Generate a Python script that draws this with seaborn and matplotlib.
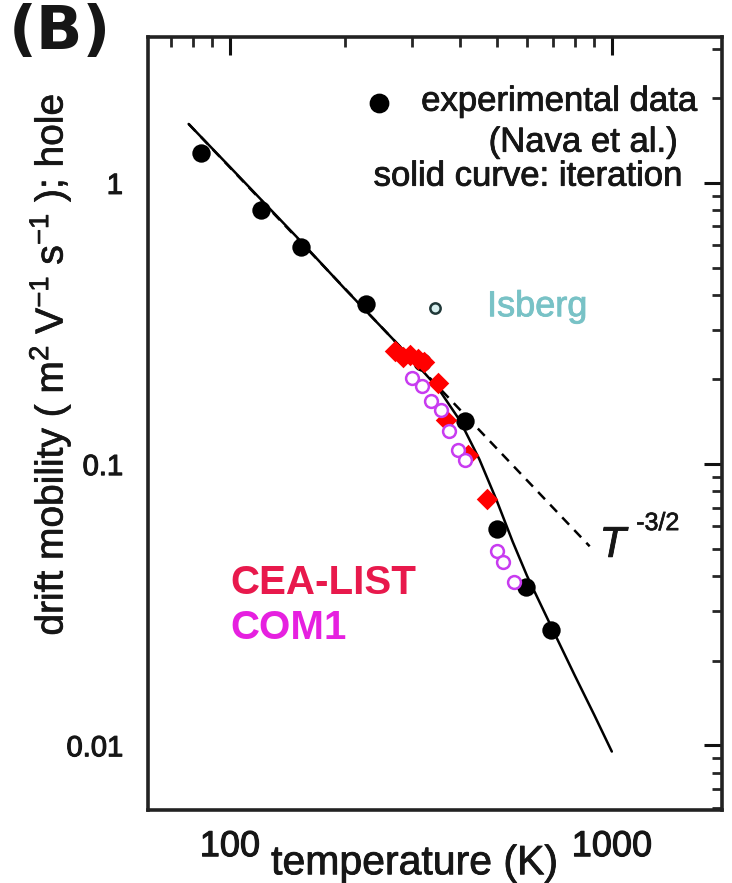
import numpy as np
import pandas as pd
import matplotlib
matplotlib.use("Agg")
import matplotlib.pyplot as plt
import matplotlib.patheffects as pe
import seaborn as sns
from matplotlib.ticker import LogLocator, FixedLocator, FixedFormatter, NullFormatter

sns.set_theme(style="white")
plt.rcParams['font.family'] = ['Liberation Sans', 'DejaVu Sans']
plt.rcParams['mathtext.fontset'] = 'custom'
plt.rcParams['mathtext.rm'] = 'Liberation Sans'
plt.rcParams['mathtext.it'] = 'Liberation Sans:italic'

# ---- data ----
nava_T = [84, 121, 154, 227, 318, 412, 500, 596, 692]
nava_mu = [1.28, 0.80, 0.59, 0.37, 0.230, 0.142, 0.0588, 0.0366, 0.0256]

isberg_T = [344]
isberg_mu = [0.36]

cea_T = [270, 284, 296, 310, 322, 350, 368, 420, 471]
cea_mu = [0.252, 0.241, 0.245, 0.236, 0.231, 0.195, 0.144, 0.108, 0.075]

com1_T = [300, 318, 336, 358, 375, 395, 412, 500, 520, 555]
com1_mu = [0.203, 0.190, 0.167, 0.156, 0.131, 0.112, 0.103, 0.049, 0.045, 0.038]

iter_T = [78, 100, 150, 200, 250, 300, 350, 400, 450, 500, 550, 600, 700, 800, 900, 1000]
iter_mu = [1.62, 1.14, 0.64, 0.42, 0.306, 0.236, 0.187, 0.143, 0.104, 0.074, 0.053, 0.040, 0.0258, 0.0177, 0.0128, 0.0095]

pow_T = [78, 875]
pow_mu = [1.62, 0.051]

x_ticks = [100, 1000]
x_ticklabels = ["100", "1000"]
y_ticks = [0.01, 0.1, 1]
y_ticklabels = ["0.01", "0.1", "1"]

INK = "#161616"


def heavy(color, w=0.9):
    return [pe.withStroke(linewidth=w, foreground=color)]


fig = plt.figure(figsize=(7.32, 8.83), dpi=100)
ax = fig.add_axes([0.202, 0.083, 0.784, 0.875])
ax.set_xscale("log")
ax.set_yscale("log")
ax.set_xlim(61, 1940)
ax.set_ylim(0.0059, 3.3)

sns.lineplot(x=iter_T, y=iter_mu, ax=ax, color="black", lw=1.8, sort=False, zorder=2)
sns.lineplot(x=pow_T, y=pow_mu, ax=ax, color="black", lw=1.8, sort=False, zorder=2,
             linestyle=(0, (4, 3)))
sns.scatterplot(x=nava_T, y=nava_mu, ax=ax, color="black", s=175, edgecolor="black",
                linewidth=0, zorder=3)
sns.scatterplot(x=cea_T, y=cea_mu, ax=ax, color="#ff0000", marker="D", s=120,
                edgecolor="#ff0000", linewidth=0, zorder=4)
sns.scatterplot(x=com1_T, y=com1_mu, ax=ax, facecolor="white", marker="o", s=85,
                edgecolor="#c83cf0", linewidth=1.8, zorder=5)
sns.scatterplot(x=isberg_T, y=isberg_mu, ax=ax, facecolor="#d8f0f0", marker="o", s=55,
                edgecolor="#203838", linewidth=1.8, zorder=5)

# legend-like annotations
ax.scatter([0.402], [0.915], transform=ax.transAxes, s=175, color="black", zorder=6)
ax.text(0.958, 0.917, "experimental data", transform=ax.transAxes, ha="right",
        va="center", fontsize=25, color=INK, path_effects=heavy(INK, 0.6))
ax.text(0.924, 0.864, "(Nava et al.)", transform=ax.transAxes, ha="right",
        va="center", fontsize=25, color=INK, path_effects=heavy(INK, 0.6))
ax.text(0.932, 0.820, "solid curve: iteration", transform=ax.transAxes, ha="right",
        va="center", fontsize=25, color=INK, path_effects=heavy(INK, 0.6))
ax.text(0.591, 0.651, "Isberg", transform=ax.transAxes, ha="left", va="center",
        fontsize=26, color="#78c2c6", path_effects=heavy("#78c2c6", 0.6))
ax.text(0.143, 0.293, "CEA-LIST", transform=ax.transAxes, ha="left", va="center",
        fontsize=29, fontweight="bold", color="#e8194c")
ax.text(0.143, 0.235, "COM1", transform=ax.transAxes, ha="left", va="center",
        fontsize=29, fontweight="bold", color="#e620e0")
ax.text(0.787, 0.3415, "T", transform=ax.transAxes, ha="left", va="center",
        fontsize=31, fontstyle="italic", color=INK, path_effects=heavy(INK, 0.6))
ax.text(0.851, 0.371, "-3/2", transform=ax.transAxes, ha="left", va="center",
        fontsize=18, color=INK, path_effects=heavy(INK, 0.5))

# axes styling
for sp in ax.spines.values():
    sp.set_linewidth(2.6)
    sp.set_color("#222222")
ax.xaxis.set_major_locator(FixedLocator(x_ticks))
ax.xaxis.set_major_formatter(FixedFormatter(x_ticklabels))
ax.yaxis.set_major_locator(FixedLocator(y_ticks))
ax.yaxis.set_major_formatter(FixedFormatter(y_ticklabels))
ax.xaxis.set_minor_locator(LogLocator(base=10, subs=np.arange(2, 10)))
ax.yaxis.set_minor_locator(LogLocator(base=10, subs=np.arange(2, 10)))
ax.xaxis.set_minor_formatter(NullFormatter())
ax.yaxis.set_minor_formatter(NullFormatter())
ax.tick_params(which="major", direction="in", length=13, width=2.2, top=True, right=True,
               colors="#111111")
ax.tick_params(which="minor", direction="in", length=7, width=2.0, top=True, right=True)
ax.tick_params(axis="x", which="major", pad=14, labelsize=26)
ax.tick_params(axis="y", which="major", pad=18, labelsize=21)
for lab in ax.get_xticklabels() + ax.get_yticklabels():
    lab.set_path_effects(heavy(INK, 0.8))
    lab.set_color(INK)

ax.set_xlabel("temperature (K)", fontsize=29.5, color=INK, va="baseline",
              path_effects=heavy(INK, 0.6))
ax.xaxis.set_label_coords(0.465, -0.0835)
ax.set_ylabel(r"drift mobility ( m$^2$ V$^{\mathrm{-1}}$ s$^{\mathrm{-1}}$ ); hole",
              fontsize=28, color=INK, va="center", path_effects=heavy(INK, 0.5))
ax.yaxis.set_label_coords(-0.171, 0.576)

fig.text(0.012, 0.997, "(B)", fontsize=44, fontweight="bold", ha="left", va="top",
         color=INK, family="DejaVu Sans")

fig.savefig("out.png", dpi=100)
